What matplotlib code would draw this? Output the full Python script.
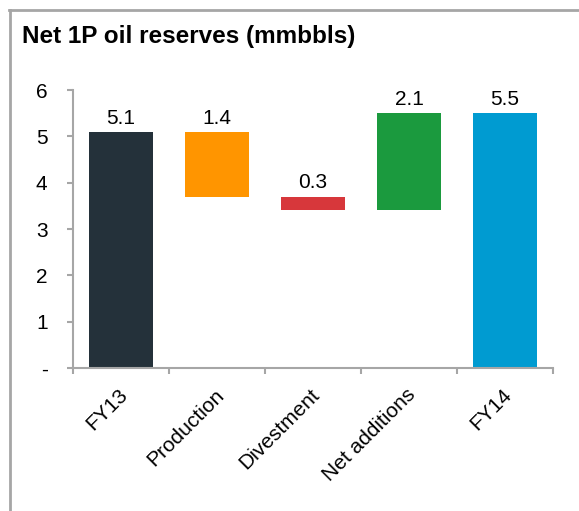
import matplotlib
matplotlib.use("Agg")
import matplotlib.pyplot as plt
from matplotlib.lines import Line2D
import matplotlib.transforms as mtransforms
import numpy as np

categories = ["FY13", "Production", "Divestment", "Net additions", "FY14"]
bar_bottoms = [0.0, 3.7, 3.4, 3.4, 0.0]
bar_tops = [5.1, 5.1, 3.7, 5.5, 5.5]
value_labels = ["5.1", "1.4", "0.3", "2.1", "5.5"]
colors = ["#24313a", "#ff9500", "#d7373b", "#1b9a3e", "#009bd1"]
yticks = [0, 1, 2, 3, 4, 5, 6]
ytick_labels = ["-", "1", "2", "3", "4", "5", "6"]

plt.rcParams["font.family"] = ["Liberation Sans", "DejaVu Sans"]

W, H = 579, 511
fig = plt.figure(figsize=(W / 100, H / 100), dpi=100)
ax = fig.add_axes([73 / W, 1 - 368 / H, (553 - 73) / W, (368 - 90) / H])

x = np.arange(len(categories))
heights = [t - b for t, b in zip(bar_tops, bar_bottoms)]
ax.bar(x, heights, bottom=bar_bottoms, width=0.67, color=colors, zorder=2)
for xi, top, lab in zip(x, bar_tops, value_labels):
    ax.annotate(lab, (xi, top), xytext=(0, 3), textcoords="offset points",
                ha="center", va="bottom", fontsize=15, color="#000000")

ax.set_xlim(-0.5, len(categories) - 0.5)
ax.set_ylim(0, 6)
ax.set_yticks(yticks)
ax.set_yticklabels(ytick_labels, fontsize=15)
ax.set_xticks(x)
ax.set_xticklabels(categories, fontsize=15, rotation=45, ha="right", va="top",
                   rotation_mode="anchor")
ax.set_xticks(np.arange(-0.5, len(categories)), minor=True)
ax.tick_params(axis="x", which="major", length=0, pad=12.5)
ax.tick_params(axis="x", which="minor", length=4.3, width=1.5, color="#a6a6a6", direction="out")
ax.tick_params(axis="y", length=4.3, width=1.5, color="#a6a6a6", direction="out", pad=14)
offset = mtransforms.ScaledTranslation(-3 / 100, 0, fig.dpi_scale_trans)
for lbl in ax.get_xticklabels():
    lbl.set_transform(lbl.get_transform() + offset)

for s in ["top", "right"]:
    ax.spines[s].set_visible(False)
for s in ["left", "bottom"]:
    ax.spines[s].set_color("#a6a6a6")
    ax.spines[s].set_linewidth(1.5)

fig.text(22 / W, 1 - 43 / H, "Net 1P oil reserves (mmbbls)", fontsize=17.5,
         fontweight="bold", ha="left", va="baseline")

fig.add_artist(Line2D([9 / W, 1], [1 - 10 / H, 1 - 10 / H], transform=fig.transFigure,
                      color="#a6a6a6", linewidth=2))
fig.add_artist(Line2D([10 / W, 10 / W], [1 - 10 / H, 0], transform=fig.transFigure,
                      color="#a6a6a6", linewidth=2))

fig.savefig("out.png", dpi=100)
